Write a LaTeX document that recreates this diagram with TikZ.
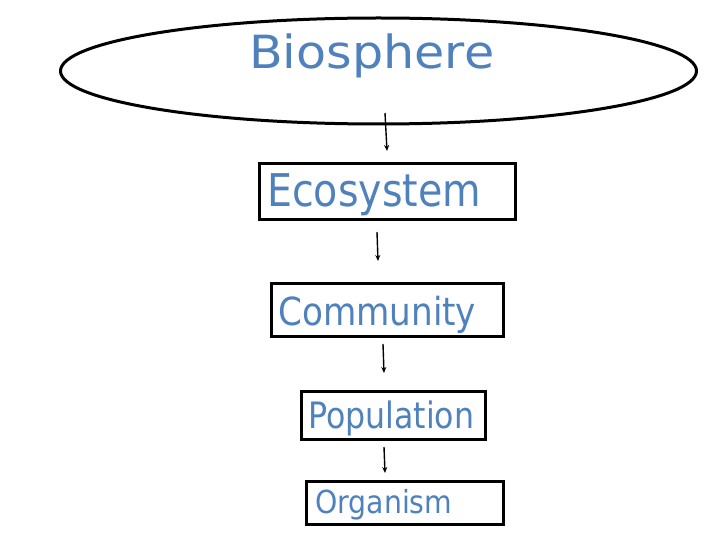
\documentclass[tikz,border=0pt]{standalone}
\usepackage{fontspec}
\setmainfont{DejaVu Sans}
\usetikzlibrary{shapes.geometric,arrows.meta}
\definecolor{txtblue}{RGB}{79,129,189}
\newcommand{\fitw}[3]{\scalebox{1}[#2]{\resizebox{#1pt}{!}{#3}}}
\tikzset{
  levelbox/.style={draw=black, line width=3pt, rectangle, inner sep=0pt},
  leveltext/.style={anchor=base west, inner sep=0pt, text=txtblue},
  down/.style={line width=1.4pt, -{Stealth[length=6pt,width=5pt]}}
}
\begin{document}
\begin{tikzpicture}[x=1pt,y=-1pt]
\useasboundingbox (0,0) rectangle (720,540);
\node[ellipse, draw=black, line width=3pt, minimum width=636pt, minimum height=106pt, inner sep=0pt] (bio) at (378.5,71) {};
\node[leveltext] (biot) at (249,69) {\fitw{245}{0.93}{Biosphere}};

\node[levelbox, minimum width=256pt, minimum height=56pt] (eco) at (387.5,191.5) {};
\node[leveltext] (ecot) at (267,207) {\fitw{214}{1.14}{Ecosystem}};

\node[levelbox, minimum width=232pt, minimum height=53pt] (com) at (387.5,310) {};
\node[leveltext] (comt) at (278,325) {\fitw{198}{1.13}{Community}};

\node[levelbox, minimum width=184pt, minimum height=48pt] (pop) at (393,415.5) {};
\node[leveltext] (popt) at (308,428) {\fitw{166}{1.15}{Population}};

\node[levelbox, minimum width=197pt, minimum height=43pt] (org) at (405,502.5) {};
\node[leveltext] (orgt) at (315,513) {\fitw{137}{1.12}{Organism}};

\coordinate (a1s) at (385,113); \coordinate (a1e) at (387,151);
\coordinate (a2s) at (377,232); \coordinate (a2e) at (378,261);
\coordinate (a3s) at (383,344); \coordinate (a3e) at (384,373);
\coordinate (a4s) at (384,447); \coordinate (a4e) at (385,473);
\draw[down] (a1s) -- (a1e);
\draw[down] (a2s) -- (a2e);
\draw[down] (a3s) -- (a3e);
\draw[down] (a4s) -- (a4e);
\end{tikzpicture}
\end{document}
